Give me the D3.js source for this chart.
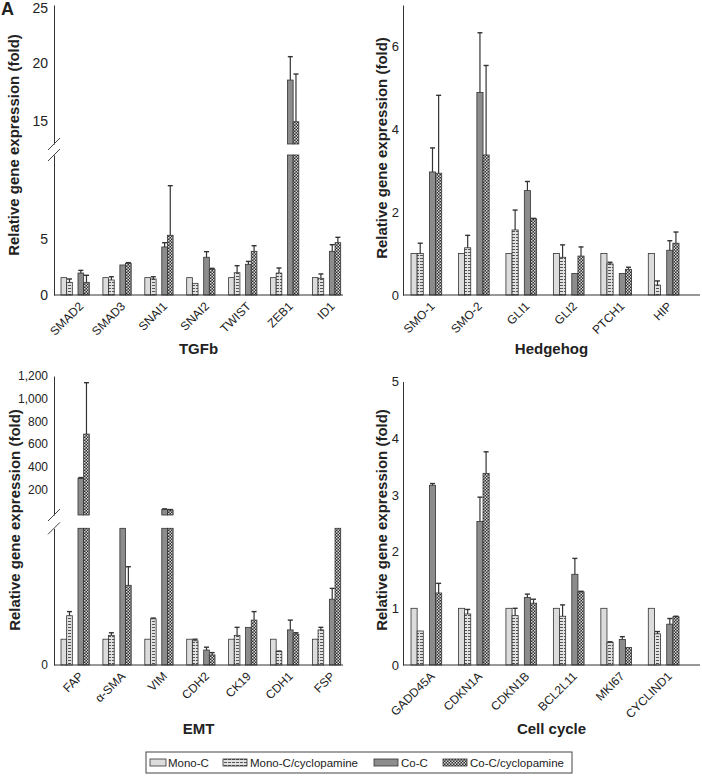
<!DOCTYPE html>
<html><head><meta charset="utf-8">
<script src="https://cdn.jsdelivr.net/npm/d3@7"></script>
<style>body{margin:0;background:#fff;} svg text{font-family:"Liberation Sans",Arial,sans-serif;fill:#222;}</style>
</head><body><svg id="c" width="702" height="776"></svg>
<script>
// ---------- DATA ----------
const series = ["Mono-C","Mono-C/cyclopamine","Co-C","Co-C/cyclopamine"];

const tgfbGenes   = ["SMAD2","SMAD3","SNAI1","SNAI2","TWIST","ZEB1","ID1"];
const tgfbMonoC   = [1.55,1.55,1.55,1.55,1.55,1.55,1.55];
const tgfbMonoCyc = [1.13,1.34,1.43,1.04,1.99,1.96,1.49];
const tgfbCoC     = [1.96,2.68,4.29,3.37,2.74,18.52,3.90];
const tgfbCoCyc   = [1.13,2.83,5.33,2.29,3.90,14.92,4.67];
const tgfbMonoCycErr = [1.43,1.63,1.63,1.04,2.62,2.41,1.88];
const tgfbCoCErr     = [2.20,2.68,4.67,3.87,3.00,20.54,4.49];
const tgfbCoCycErr   = [1.76,2.89,9.76,2.38,4.40,19.04,5.15];
const tgfbLowerTicks = [0,5];
const tgfbUpperTicks = [15,20,25];

const hhGenes   = ["SMO-1","SMO-2","GLI1","GLI2","PTCH1","HIP"];
const hhMonoC   = [1,1,1,1,1,1];
const hhMonoCyc = [1.00,1.14,1.57,0.91,0.75,0.24];
const hhCoC     = [2.97,4.89,2.52,0.52,0.52,1.08];
const hhCoCyc   = [2.94,3.38,1.84,0.94,0.62,1.25];
const hhMonoCycErr = [1.25,1.44,2.05,1.21,0.79,0.34];
const hhCoCErr     = [3.55,6.33,2.74,0.52,0.52,1.31];
const hhCoCycErr   = [4.82,5.54,1.85,1.16,0.67,1.52];
const hhTicks = [0,2,4,6];

const emtGenes   = ["FAP","\u03b1-SMA","VIM","CDH2","CK19","CDH1","FSP"];
const emtMonoC   = [1,1,1,1,1,1,1];
const emtMonoCyc = [1.91,1.15,1.79,0.94,1.15,0.52,1.36];
const emtCoC     = [297,8,25,0.58,1.46,1.36,2.55];
const emtCoCyc   = [688,3.09,20,0.39,1.74,1.20,8];
const emtMonoCycErr = [2.07,1.25,1.82,1.00,1.46,0.54,1.46];
const emtCoCErr     = [305,8,29,0.69,1.46,1.74,2.97];
const emtCoCycErr   = [1141,3.81,23,0.48,2.07,1.25,8];
const emtLowerTicks = [0];
const emtUpperTicks = [200,400,600,800,1000,1200];

const ccGenes   = ["GADD45A","CDKN1A","CDKN1B","BCL2L11","MKI67","CYCLIND1"];
const ccMonoC   = [1,1,1,1,1,1];
const ccMonoCyc = [0.60,0.90,0.87,0.86,0.40,0.55];
const ccCoC     = [3.17,2.53,1.19,1.60,0.45,0.72];
const ccCoCyc   = [1.27,3.38,1.09,1.29,0.31,0.85];
const ccMonoCycErr = [0.60,0.98,1.00,1.06,0.41,0.59];
const ccCoCErr     = [3.20,2.96,1.25,1.88,0.50,0.82];
const ccCoCycErr   = [1.44,3.76,1.16,1.30,0.31,0.86];
const ccTicks = [0,1,2,3,4,5];

// ---------- LAYOUT ----------
const svg = d3.select("#c");
const defs = svg.append("defs");
const p1 = defs.append("pattern").attr("id","pMonoCyc").attr("patternUnits","userSpaceOnUse").attr("width",4).attr("height",3);
p1.append("rect").attr("width",4).attr("height",3).attr("fill","#e2e2e2");
p1.append("rect").attr("x",0).attr("y",0).attr("width",3).attr("height",1).attr("fill","#555");
const p2 = defs.append("pattern").attr("id","pCoCyc").attr("patternUnits","userSpaceOnUse").attr("width",3).attr("height",3);
p2.append("rect").attr("width",3).attr("height",3).attr("fill","#2e2e2e");
p2.append("rect").attr("x",0).attr("y",0).attr("width",1.5).attr("height",1.5).attr("fill","#d8d8d8");
p2.append("rect").attr("x",1.5).attr("y",1.5).attr("width",1.5).attr("height",1.5).attr("fill","#d8d8d8");

const fills = {"Mono-C":"#dcdcdc","Mono-C/cyclopamine":"url(#pMonoCyc)","Co-C":"#8c8c8c","Co-C/cyclopamine":"url(#pCoCyc)"};

const panels = [
  {genes:tgfbGenes, vals:[tgfbMonoC,tgfbMonoCyc,tgfbCoC,tgfbCoCyc], errs:[null,tgfbMonoCycErr,tgfbCoCErr,tgfbCoCycErr],
   title:"TGFb", axisX:54, axisEnd:343, bandRange:[61,340.7], padInner:0.3246, base:295,
   lower:{domain:[0,12.5], range:[295,155], ticks:tgfbLowerTicks},
   upper:{domain:[13,25], range:[144,5], ticks:tgfbUpperTicks}, threshold:12.5,
   tickFont:14, titleY:354, ylabX:19, ylabY:145},
  {genes:hhGenes, vals:[hhMonoC,hhMonoCyc,hhCoC,hhCoCyc], errs:[null,hhMonoCycErr,hhCoCErr,hhCoCycErr],
   title:"Hedgehog", axisX:403, axisEnd:700, bandRange:[411,679], padInner:0.353, base:295,
   lower:{domain:[0,7], range:[295,5], ticks:hhTicks}, upper:null,
   tickFont:13, titleY:354, ylabX:387, ylabY:148},
  {genes:emtGenes, vals:[emtMonoC,emtMonoCyc,emtCoC,emtCoCyc], errs:[null,emtMonoCycErr,emtCoCErr,emtCoCycErr],
   title:"EMT", axisX:54, axisEnd:343, bandRange:[61,340.7], padInner:0.3246, base:665,
   lower:{domain:[0,5.3], range:[665,528.3], ticks:emtLowerTicks},
   upper:{domain:[-25,1200], range:[515,376], ticks:emtUpperTicks}, threshold:10,
   tickFont:12, titleY:734, ylabX:20, ylabY:520},
  {genes:ccGenes, vals:[ccMonoC,ccMonoCyc,ccCoC,ccCoCyc], errs:[null,ccMonoCycErr,ccCoCErr,ccCoCycErr],
   title:"Cell cycle", axisX:403, axisEnd:700, bandRange:[411,679], padInner:0.353, base:665,
   lower:{domain:[0,5], range:[665,381.5], ticks:ccTicks}, upper:null,
   tickFont:13, titleY:734, ylabX:387, ylabY:520}
];

const fmt = d3.format(",");

function styleAxis(a, p){
  a.select(".domain").attr("stroke","#333");
  a.selectAll("text").attr("font-size",p.tickFont).attr("font-family","Liberation Sans, Arial, sans-serif").attr("fill","#222");
  // keep labels at the very top inside the picture
  a.selectAll(".tick text").each(function(){
    const t = d3.select(this.parentNode).attr("transform");
    const m = /translate\(([^,]+),([^)]+)\)/.exec(t);
    if (m && +m[2] < 8) d3.select(this).attr("dy","0.55em");
  });
}

function drawPanel(p){
  const g = svg.append("g");
  const x0 = d3.scaleBand().domain(p.genes).range(p.bandRange).paddingInner(p.padInner);
  const x1 = d3.scaleBand().domain([series[0],series[1],"_gap",series[2],series[3]]).range([0,x0.bandwidth()]);
  const yL = d3.scaleLinear().domain(p.lower.domain).range(p.lower.range);
  const yU = p.upper ? d3.scaleLinear().domain(p.upper.domain).range(p.upper.range) : null;
  const lowMax = p.lower.domain[1];
  const thr = p.upper ? p.threshold : Infinity;

  const axL = d3.axisLeft(yL).tickValues(p.lower.ticks).tickSizeInner(0).tickSizeOuter(0).tickPadding(p.axisX<200?6:4).tickFormat(fmt);
  const gl = g.append("g").attr("transform",`translate(${p.axisX},0)`).call(axL);
  styleAxis(gl, p);
  if (yU){
    const axU = d3.axisLeft(yU).tickValues(p.upper.ticks).tickSizeInner(0).tickSizeOuter(0).tickPadding(6).tickFormat(fmt);
    const gu = g.append("g").attr("transform",`translate(${p.axisX},0)`).call(axU);
    styleAxis(gu, p);
    [yU.range()[0], yL.range()[1]].forEach(yy=>{
      g.append("line").attr("x1",p.axisX-6).attr("y1",yy+6).attr("x2",p.axisX+6).attr("y2",yy-6)
        .attr("stroke","#444").attr("stroke-width",1);
    });
  }

  p.genes.forEach((gene,i)=>{
    series.forEach((s,k)=>{
      const v = p.vals[k][i];
      const bx = x0(gene)+x1(s), bw = x1.bandwidth();
      const yTopL = yL(Math.min(v,lowMax));
      g.append("rect").attr("x",bx).attr("y",yTopL).attr("width",bw).attr("height",p.base-yTopL)
        .attr("fill",fills[s]).attr("stroke","#333").attr("stroke-width",0.8);
      let yFrom = yTopL;
      if (yU && v>thr){
        const yt = yU(v);
        g.append("rect").attr("x",bx).attr("y",yt).attr("width",bw).attr("height",yU.range()[0]-yt)
          .attr("fill",fills[s]).attr("stroke","#333").attr("stroke-width",0.8);
        yFrom = yt;
      }
      const errs = p.errs[k];
      if (errs){
        const e = errs[i];
        if (e>v){
          const yE = (yU && e>thr) ? yU(e) : yL(Math.min(e,lowMax));
          const cx = bx+bw/2;
          g.append("line").attr("x1",cx).attr("x2",cx).attr("y1",yFrom).attr("y2",yE).attr("stroke","#333").attr("stroke-width",1.2);
          g.append("line").attr("x1",cx-2.5).attr("x2",cx+2.5).attr("y1",yE).attr("y2",yE).attr("stroke","#333").attr("stroke-width",1.4);
        }
      }
    });
  });

  g.append("line").attr("x1",p.axisX).attr("x2",p.axisEnd).attr("y1",p.base).attr("y2",p.base).attr("stroke","#333").attr("stroke-width",1);

  p.genes.forEach(gene=>{
    const cx = x0(gene)+x0.bandwidth()/2;
    g.append("text").attr("transform",`translate(${cx+9},${p.base+12}) rotate(-45)`)
      .attr("text-anchor","end").attr("font-size",12).text(gene);
  });

  g.append("text").attr("x",(p.axisX+p.axisEnd)/2).attr("y",p.titleY).attr("text-anchor","middle")
    .attr("font-size",15).attr("font-weight","bold").attr("fill","#111").text(p.title);
  g.append("text").attr("transform",`translate(${p.ylabX},${p.ylabY}) rotate(-90)`).attr("text-anchor","middle")
    .attr("font-size",15).attr("font-weight","bold").attr("fill","#111").text("Relative gene expression (fold)");
}

panels.forEach(drawPanel);

svg.append("text").attr("x",1).attr("y",15).attr("font-size",18).attr("font-weight","bold").attr("fill","#111").text("A");

const lg = svg.append("g");
lg.append("rect").attr("x",146).attr("y",752).attr("width",426).attr("height",21).attr("fill","#fff").attr("stroke","#444").attr("stroke-width",1);
const legX = [150,223,374,443];
series.forEach((s,k)=>{
  lg.append("rect").attr("x",legX[k]).attr("y",759).attr("width",k===0?16:24).attr("height",7)
    .attr("fill",fills[s]).attr("stroke","#333").attr("stroke-width",0.8);
  lg.append("text").attr("x",legX[k]+(k===0?18:27)).attr("y",767).attr("font-size",11.5).text(s);
});
</script></body></html>
